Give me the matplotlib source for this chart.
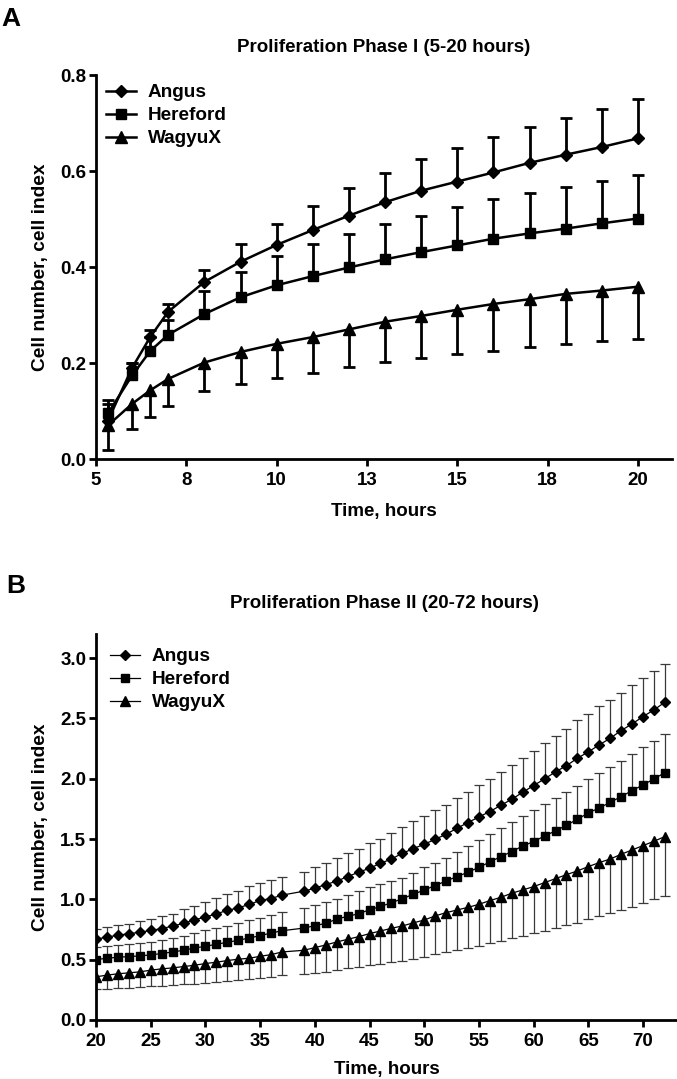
import matplotlib
matplotlib.use("Agg")
import matplotlib.pyplot as plt
from matplotlib.lines import Line2D
import numpy as np

plt.rcParams['font.family'] = ['Liberation Sans Narrow', 'Liberation Sans', 'DejaVu Sans']
plt.rcParams['font.weight'] = 'bold'

series_names = ["Angus", "Hereford", "WagyuX"]
series_markers = ["D", "s", "^"]

# ---------------- Phase I data ----------------
p1_time = [5.33, 6, 6.5, 7, 8, 9, 10, 11, 12, 13, 14, 15, 16, 17, 18, 19, 20]
p1_angus = [0.080, 0.190, 0.254, 0.307, 0.369, 0.411, 0.446, 0.477, 0.507, 0.535,
            0.559, 0.578, 0.597, 0.617, 0.634, 0.650, 0.668]
p1_angus_upper = [0.115, 0.200, 0.268, 0.322, 0.394, 0.447, 0.489, 0.528, 0.564, 0.596,
                  0.625, 0.648, 0.670, 0.692, 0.710, 0.730, 0.751]
p1_hereford = [0.095, 0.174, 0.225, 0.259, 0.302, 0.337, 0.362, 0.381, 0.399, 0.416,
               0.431, 0.445, 0.459, 0.470, 0.480, 0.491, 0.501]
p1_hereford_upper = [0.122, 0.199, 0.255, 0.290, 0.350, 0.390, 0.422, 0.447, 0.468, 0.489,
                     0.507, 0.526, 0.541, 0.555, 0.566, 0.580, 0.592]
p1_wagyu = [0.070, 0.115, 0.143, 0.167, 0.201, 0.223, 0.240, 0.254, 0.270, 0.286,
            0.298, 0.311, 0.323, 0.333, 0.344, 0.351, 0.359]
p1_wagyu_lower = [0.019, 0.063, 0.088, 0.111, 0.141, 0.157, 0.169, 0.180, 0.192, 0.202,
                  0.210, 0.218, 0.225, 0.233, 0.240, 0.245, 0.251]
p1_xticks = [5, 7.5, 10, 12.5, 15, 17.5, 20]
p1_xticklabels = ["5", "8", "10", "13", "15", "18", "20"]
p1_yticks = [0.0, 0.2, 0.4, 0.6, 0.8]

# ---------------- Phase II data ----------------
p2_time = [20, 21, 22, 23, 24, 25, 26, 27, 28, 29, 30, 31, 32, 33, 34, 35, 36, 37,
           39, 40, 41, 42, 43, 44, 45, 46, 47,
           48, 49, 50, 51, 52, 53, 54, 55, 56, 57, 58, 59, 60, 61, 62, 63, 64, 65,
           66, 67, 68, 69, 70, 71, 72]
p2_angus = [0.669, 0.688, 0.702, 0.716, 0.727, 0.743, 0.757, 0.779, 0.801, 0.831, 0.853, 0.881,
            0.908, 0.930, 0.958, 0.991, 1.007, 1.035,
            1.068, 1.093, 1.123, 1.151, 1.189, 1.225, 1.258, 1.299, 1.335,
            1.382, 1.421, 1.457, 1.498, 1.540, 1.590, 1.637, 1.684, 1.728, 1.780, 1.830, 1.888,
            1.944, 1.999, 2.057, 2.109, 2.170, 2.223, 2.281, 2.336, 2.400, 2.455, 2.516, 2.571, 2.635]
p2_angus_upper = [0.751, 0.771, 0.784, 0.798, 0.820, 0.840, 0.859, 0.881, 0.917, 0.941, 0.980, 1.013,
                  1.046, 1.073, 1.107, 1.137, 1.164, 1.189,
                  1.228, 1.266, 1.302, 1.340, 1.385, 1.418, 1.464, 1.500, 1.547,
                  1.604, 1.651, 1.695, 1.742, 1.783, 1.839, 1.894, 1.946, 1.999, 2.057, 2.112, 2.173,
                  2.234, 2.295, 2.356, 2.414, 2.483, 2.535, 2.599, 2.654, 2.715, 2.776, 2.834, 2.892, 2.953]
p2_hereford = [0.501, 0.512, 0.520, 0.526, 0.531, 0.540, 0.551, 0.564, 0.578, 0.597, 0.611, 0.628,
               0.644, 0.661, 0.680, 0.699, 0.721, 0.740,
               0.762, 0.782, 0.801, 0.837, 0.859, 0.881, 0.914, 0.941, 0.972,
               1.006, 1.042, 1.078, 1.114, 1.153, 1.189, 1.225, 1.266, 1.310, 1.355, 1.396, 1.443,
               1.479, 1.526, 1.568, 1.615, 1.664, 1.717, 1.758, 1.805, 1.852, 1.902, 1.949, 1.999, 2.051]
p2_hereford_upper = [0.606, 0.614, 0.622, 0.628, 0.639, 0.650, 0.666, 0.683, 0.696, 0.718, 0.743, 0.760,
                     0.782, 0.804, 0.826, 0.848, 0.873, 0.897,
                     0.928, 0.950, 0.977, 1.005, 1.038, 1.068, 1.100, 1.128, 1.150,
                     1.175, 1.222, 1.266, 1.305, 1.346, 1.396, 1.443, 1.493, 1.543, 1.592, 1.642, 1.692,
                     1.742, 1.792, 1.841, 1.888, 1.944, 1.996, 2.046, 2.096, 2.148, 2.204, 2.262, 2.314, 2.369]
p2_wagyu = [0.358, 0.372, 0.383, 0.391, 0.399, 0.413, 0.424, 0.432, 0.443, 0.454, 0.468, 0.479,
            0.493, 0.504, 0.512, 0.528, 0.542, 0.564,
            0.578, 0.600, 0.622, 0.647, 0.669, 0.691, 0.716, 0.738, 0.760,
            0.780, 0.805, 0.829, 0.863, 0.890, 0.912, 0.934, 0.959, 0.990, 1.017, 1.051, 1.078,
            1.106, 1.139, 1.172, 1.205, 1.236, 1.272, 1.305, 1.335, 1.374, 1.410, 1.446, 1.482, 1.521]
p2_wagyu_lower = [0.253, 0.258, 0.263, 0.268, 0.273, 0.279, 0.285, 0.290, 0.296, 0.302, 0.308, 0.315,
                  0.322, 0.330, 0.338, 0.347, 0.357, 0.369,
                  0.380, 0.391, 0.402, 0.413, 0.427, 0.440, 0.454, 0.468, 0.482,
                  0.490, 0.503, 0.525, 0.547, 0.567, 0.581, 0.600, 0.617, 0.636, 0.655, 0.677, 0.697,
                  0.719, 0.741, 0.760, 0.785, 0.807, 0.835, 0.863, 0.885, 0.912, 0.940, 0.968, 1.001, 1.031]
p2_xticks = [20, 25, 30, 35, 40, 45, 50, 55, 60, 65, 70]
p2_yticks = [0.0, 0.5, 1.0, 1.5, 2.0, 2.5, 3.0]

W, H = 677, 1079
FS = 13.5
fig = plt.figure(figsize=(W / 100, H / 100), dpi=100)


def axes_px(left, right, top, bottom):
    return fig.add_axes([left / W, 1 - bottom / H, (right - left) / W, (bottom - top) / H])


def draw_err(ax, x, mean, end, above, lw, cap, color):
    x = np.asarray(x, float)
    mean = np.asarray(mean, float)
    end = np.asarray(end, float)
    if above:
        yerr = [np.zeros_like(mean), end - mean]
    else:
        yerr = [mean - end, np.zeros_like(mean)]
    cont = ax.errorbar(x, mean, yerr=yerr, fmt='none', ecolor=color, elinewidth=lw,
                       capsize=cap, capthick=lw, zorder=2)
    caps = cont[1]
    if len(caps) == 2:
        caps[1 if not above else 0].set_visible(False)


def style_axes(ax, spine_lw):
    for s in ['top', 'right']:
        ax.spines[s].set_visible(False)
    for s in ['left', 'bottom']:
        ax.spines[s].set_linewidth(spine_lw)
    ax.tick_params(axis='both', direction='out', length=5, width=spine_lw, labelsize=FS)
    ax.tick_params(axis='x', pad=4.5)
    ax.tick_params(axis='y', pad=2)
    for lab in ax.get_xticklabels() + ax.get_yticklabels():
        lab.set_fontweight('bold')


# ---------------- Panel A ----------------
ax1 = axes_px(96, 672, 75, 459)
p1_means = [p1_angus, p1_hereford, p1_wagyu]
p1_ends = [p1_angus_upper, p1_hereford_upper, p1_wagyu_lower]
p1_above = [True, True, False]
for mean, end, above in zip(p1_means, p1_ends, p1_above):
    draw_err(ax1, p1_time, mean, end, above, lw=2.0, cap=4, color='black')
p1_ms = [6.5, 6.5, 8]
for name, mk, mean, ms in zip(series_names, series_markers, p1_means, p1_ms):
    ax1.plot(p1_time, mean, color='black', lw=1.8, marker=mk, ms=ms, zorder=3)
ax1.set_xlim(5, 20.94)
ax1.set_ylim(0, 0.8)
ax1.set_xticks(p1_xticks)
ax1.set_xticklabels(p1_xticklabels)
ax1.set_yticks(p1_yticks)
ax1.set_yticklabels([f"{v:.1f}" for v in p1_yticks])
style_axes(ax1, 2.0)
ax1.set_xlabel("Time, hours", fontsize=FS, fontweight='bold', labelpad=10)
ax1.set_ylabel("Cell number, cell index", fontsize=13.8, fontweight='bold', labelpad=8)
fig.text(384 / W, 1 - 47 / H, "Proliferation Phase I (5-20 hours)", ha='center', va='center',
         fontsize=FS, fontweight='bold')
fig.text(1 / W, 1 - 19 / H, "A", ha='left', va='center', fontsize=19, fontweight='bold',
         family=['Liberation Sans', 'DejaVu Sans'])
h1 = [Line2D([], [], color='black', lw=1.8, marker=mk, ms=ms)
      for mk, ms in zip(series_markers, p1_ms)]
leg1 = ax1.legend(h1, series_names, loc='upper left', bbox_to_anchor=(106 / W, 1 - 84 / H),
                  bbox_transform=fig.transFigure, frameon=False, handlelength=1.6,
                  handletextpad=0.6, labelspacing=0.3, borderpad=0, borderaxespad=0,
                  prop={'weight': 'bold', 'size': 13.7})

# ---------------- Panel B ----------------
ax2 = axes_px(96, 677, 634, 1020)
p2_means = [p2_angus, p2_hereford, p2_wagyu]
p2_ends = [p2_angus_upper, p2_hereford_upper, p2_wagyu_lower]
p2_above = [True, True, False]
for mean, end, above in zip(p2_means, p2_ends, p2_above):
    draw_err(ax2, p2_time, mean, end, above, lw=0.9, cap=3.5, color='#3a3a3a')
p2_ms = [5.3, 5.3, 6.8]
for name, mk, mean, ms in zip(series_names, series_markers, p2_means, p2_ms):
    ax2.plot(p2_time, mean, color='black', lw=0.9, marker=mk, ms=ms, zorder=3)
ax2.set_xlim(20, 73.1)
ax2.set_ylim(0, 3.2)
ax2.set_xticks(p2_xticks)
ax2.set_xticklabels([str(v) for v in p2_xticks])
ax2.set_yticks(p2_yticks)
ax2.set_yticklabels([f"{v:.1f}" for v in p2_yticks])
style_axes(ax2, 2.0)
ax2.set_xlabel("Time, hours", fontsize=FS, fontweight='bold', labelpad=8)
ax2.set_ylabel("Cell number, cell index", fontsize=13.8, fontweight='bold', labelpad=8)
fig.text(384 / W, 1 - 604 / H, "Proliferation Phase II (20-72 hours)", ha='center', va='center',
         fontsize=FS, fontweight='bold')
fig.text(6 / W, 1 - 586 / H, "B", ha='left', va='center', fontsize=19, fontweight='bold',
         family=['Liberation Sans', 'DejaVu Sans'])
h2 = [Line2D([], [], color='black', lw=0.9, marker=mk, ms=ms)
      for mk, ms in zip(series_markers, p2_ms)]
leg2 = ax2.legend(h2, series_names, loc='upper left', bbox_to_anchor=(110 / W, 1 - 648 / H),
                  bbox_transform=fig.transFigure, frameon=False, handlelength=1.6,
                  handletextpad=0.6, labelspacing=0.3, borderpad=0, borderaxespad=0,
                  prop={'weight': 'bold', 'size': 13.7})

fig.savefig("out.png", dpi=100)
